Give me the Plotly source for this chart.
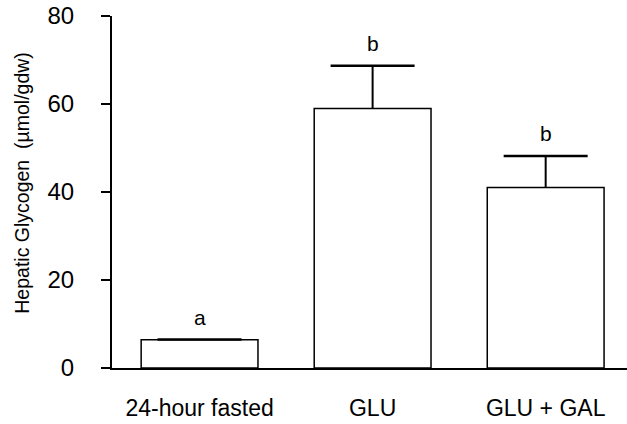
import plotly.graph_objects as go

categories = ["24-hour fasted", "GLU", "GLU + GAL"]
means = [6.4, 59.0, 41.0]
errors = [0.1, 9.7, 7.2]
letters = ["a", "b", "b"]
y_ticks = [0, 20, 40, 60, 80]
y_title = "Hepatic Glycogen  (µmol/gdw)"

xpos = list(range(len(categories)))
tops = [m + e for m, e in zip(means, errors)]

fig = go.Figure()
fig.add_trace(go.Bar(
    x=xpos, y=means,
    marker=dict(color="white", line=dict(color="black", width=1.5)),
    width=0.675,
    showlegend=False,
))

# error bar stems (upper only) and caps
stem_x, stem_y = [], []
for xi, m, t in zip(xpos, means, tops):
    stem_x += [xi, xi, None]
    stem_y += [m, t, None]
fig.add_trace(go.Scatter(
    x=stem_x, y=stem_y, mode="lines",
    line=dict(color="black", width=2), showlegend=False, hoverinfo="skip",
))
fig.add_trace(go.Scatter(
    x=xpos, y=tops, mode="markers",
    marker=dict(symbol="line-ew", size=60, line=dict(color="black", width=2.5)),
    showlegend=False, hoverinfo="skip",
))

for xi, t, s in zip(xpos, tops, letters):
    fig.add_annotation(x=xi, y=t, text=s, showarrow=False,
                       yanchor="middle", yshift=22,
                       font=dict(family="Liberation Sans, Arial", size=21, color="black"))

# y-axis title
fig.add_annotation(xref="paper", yref="paper", x=-0.175, y=0.526,
                   text=y_title, textangle=-90, showarrow=False,
                   xanchor="center", yanchor="middle",
                   font=dict(family="Liberation Sans, Arial", size=19.5, color="black"))

fig.update_layout(
    width=627, height=424,
    margin=dict(l=112, r=0, t=16, b=56),
    plot_bgcolor="white", paper_bgcolor="white",
    font=dict(family="Liberation Sans, Arial", color="black"),
)
fig.update_xaxes(
    range=[-0.506, 2.47], tickvals=xpos, ticktext=categories,
    showline=True, linecolor="black", linewidth=2, ticks="",
    showgrid=False, zeroline=False,
    tickfont=dict(size=23), ticklabelstandoff=18,
)
fig.update_yaxes(
    range=[0, 80], tickvals=y_ticks,
    showline=True, linecolor="black", linewidth=2,
    ticks="outside", ticklen=9, tickwidth=2, tickcolor="black",
    showgrid=False, zeroline=False,
    tickfont=dict(size=24), ticklabelstandoff=22,
)

fig.write_html("out.html")
